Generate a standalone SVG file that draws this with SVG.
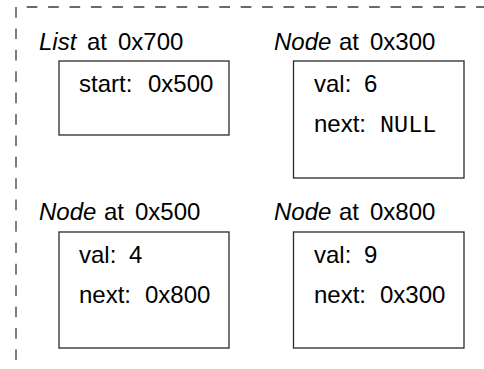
<svg xmlns="http://www.w3.org/2000/svg" width="484" height="369" viewBox="0 0 484 369">
<style>
.frame{fill:none;stroke:#3a3a3a;stroke-width:1.3;stroke-dasharray:10.7 10.7}
.box{fill:#fff;stroke:#2a2a2a;stroke-width:1.3}
text{font-family:"Liberation Sans",Arial,sans-serif;font-size:24px;fill:#000}
.it{font-style:italic}
.tt{font-family:"Liberation Mono","Courier New",monospace;font-size:23.5px}
</style>
<rect width="484" height="369" fill="#fff"/>
<g id="frame">
<line class="frame" x1="16" y1="7" x2="484" y2="7" stroke-dashoffset="10.7"/>
<line class="frame" x1="16" y1="7" x2="16" y2="369"/>
</g>
<g id="connectors"/>
<g id="list-0x700">
<text y="50"><tspan class="it" x="39">List</tspan><tspan x="87">at</tspan><tspan x="118">0x700</tspan></text>
<rect class="box" x="59" y="61" width="170" height="74"/>
<text y="92"><tspan x="79">start:</tspan><tspan x="148">0x500</tspan></text>
</g>
<g id="node-0x300">
<text y="50"><tspan class="it" x="274">Node</tspan><tspan x="339">at</tspan><tspan x="370">0x300</tspan></text>
<rect class="box" x="293.5" y="61" width="170.5" height="117"/>
<text y="92"><tspan x="314">val:</tspan><tspan x="364">6</tspan></text>
<text y="132"><tspan x="314">next:</tspan><tspan class="tt" x="380">NULL</tspan></text>
</g>
<g id="node-0x500">
<text y="220"><tspan class="it" x="39">Node</tspan><tspan x="104">at</tspan><tspan x="135">0x500</tspan></text>
<rect class="box" x="59" y="232" width="170" height="116"/>
<text y="263"><tspan x="79">val:</tspan><tspan x="129">4</tspan></text>
<text y="303"><tspan x="79">next:</tspan><tspan x="145">0x800</tspan></text>
</g>
<g id="node-0x800">
<text y="220"><tspan class="it" x="274">Node</tspan><tspan x="339">at</tspan><tspan x="370">0x800</tspan></text>
<rect class="box" x="293.5" y="232" width="170.5" height="116"/>
<text y="263"><tspan x="314">val:</tspan><tspan x="364">9</tspan></text>
<text y="303"><tspan x="314">next:</tspan><tspan x="380">0x300</tspan></text>
</g>
</svg>
